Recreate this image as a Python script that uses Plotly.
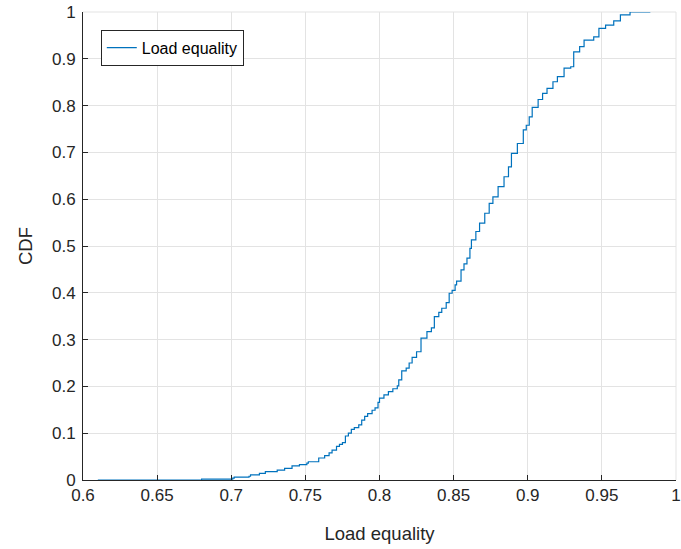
import plotly.graph_objects as go

load_eq = [0.610, 0.680, 0.701, 0.702, 0.712, 0.713, 0.719, 0.723, 0.731, 0.736,
           0.741, 0.746, 0.751, 0.752, 0.759, 0.763, 0.766, 0.768, 0.771, 0.773,
           0.775, 0.777, 0.779, 0.781, 0.783, 0.786, 0.788, 0.790, 0.792, 0.795,
           0.797, 0.799, 0.800, 0.803, 0.806, 0.809, 0.812, 0.813, 0.815, 0.818,
           0.820, 0.822, 0.825, 0.828, 0.832, 0.835, 0.837, 0.840, 0.842, 0.845,
           0.847, 0.849, 0.851, 0.852, 0.855, 0.857, 0.859, 0.861, 0.862, 0.865,
           0.8675, 0.871, 0.874, 0.8765, 0.880, 0.884, 0.887, 0.889, 0.893, 0.897,
           0.899, 0.901, 0.903, 0.907, 0.910, 0.913, 0.917, 0.920, 0.9245, 0.929,
           0.931, 0.935, 0.938, 0.9445, 0.948, 0.9525, 0.958, 0.9625, 0.969, 0.9827]
cdf = [0.0, 0.002, 0.004, 0.006, 0.008, 0.011, 0.014, 0.018, 0.021, 0.025,
       0.030, 0.033, 0.036, 0.039, 0.047, 0.052, 0.058, 0.064, 0.072, 0.076,
       0.080, 0.094, 0.100, 0.108, 0.112, 0.118, 0.128, 0.136, 0.142, 0.149,
       0.154, 0.166, 0.175, 0.182, 0.189, 0.195, 0.201, 0.214, 0.233, 0.239,
       0.250, 0.262, 0.274, 0.303, 0.317, 0.325, 0.349, 0.358, 0.367, 0.379,
       0.399, 0.405, 0.417, 0.425, 0.449, 0.462, 0.474, 0.495, 0.513, 0.531,
       0.549, 0.570, 0.591, 0.605, 0.627, 0.648, 0.669, 0.698, 0.719, 0.748,
       0.758, 0.776, 0.796, 0.813, 0.826, 0.837, 0.851, 0.862, 0.880, 0.883,
       0.915, 0.926, 0.940, 0.947, 0.965, 0.972, 0.981, 0.994, 1.0, 1.0]

x_ticks = [0.6, 0.65, 0.7, 0.75, 0.8, 0.85, 0.9, 0.95, 1.0]
x_labels = ["0.6", "0.65", "0.7", "0.75", "0.8", "0.85", "0.9", "0.95", "1"]
y_ticks = [0, 0.1, 0.2, 0.3, 0.4, 0.5, 0.6, 0.7, 0.8, 0.9, 1.0]
y_labels = ["0", "0.1", "0.2", "0.3", "0.4", "0.5", "0.6", "0.7", "0.8", "0.9", "1"]

FONT = "Liberation Sans, Arial, sans-serif"
AX = "#262626"
GRID = "#e3e3e3"

fig = go.Figure()
fig.add_trace(go.Scatter(
    x=load_eq, y=cdf, mode="lines", line=dict(color="#0072BD", width=1.2, shape="hv"),
    name="Load equality",
))

axis_common = dict(
    showline=True, linecolor=AX, linewidth=1, mirror=False,
    ticks="inside", ticklen=5, tickcolor=AX, tickwidth=1,
    showgrid=True, gridcolor=GRID, gridwidth=1, zeroline=False,
    tickfont=dict(family=FONT, size=17, color=AX),
    ticklabeloverflow="allow", automargin=False,
)

fig.update_layout(
    width=681, height=549,
    margin=dict(l=83, r=5, t=12, b=69),
    paper_bgcolor="white", plot_bgcolor="white",
    font=dict(family=FONT, color=AX),
    showlegend=True,
    legend=dict(
        x=0.03, y=0.962, xanchor="left", yanchor="top",
        bgcolor="white", bordercolor=AX, borderwidth=1,
        font=dict(family=FONT, size=16, color="black"),
    ),
    xaxis=dict(
        range=[0.6, 1.0], tickvals=x_ticks, ticktext=x_labels,
        title=dict(text="Load equality", font=dict(family=FONT, size=18.5, color=AX), standoff=22),
        **axis_common,
    ),
    yaxis=dict(
        range=[0, 1.0], tickvals=y_ticks, ticktext=y_labels, ticklabelstandoff=3,
        title=dict(text="CDF", font=dict(family=FONT, size=18.5, color=AX), standoff=14),
        **axis_common,
    ),
    shapes=[
        dict(type="line", xref="paper", yref="paper", x0=0, x1=1, y0=1, y1=1,
             line=dict(color=GRID, width=1), layer="below"),
        dict(type="line", xref="paper", yref="paper", x0=1, x1=1, y0=0, y1=1,
             line=dict(color=GRID, width=1), layer="below"),
    ],
)

fig.write_html("out.html")
